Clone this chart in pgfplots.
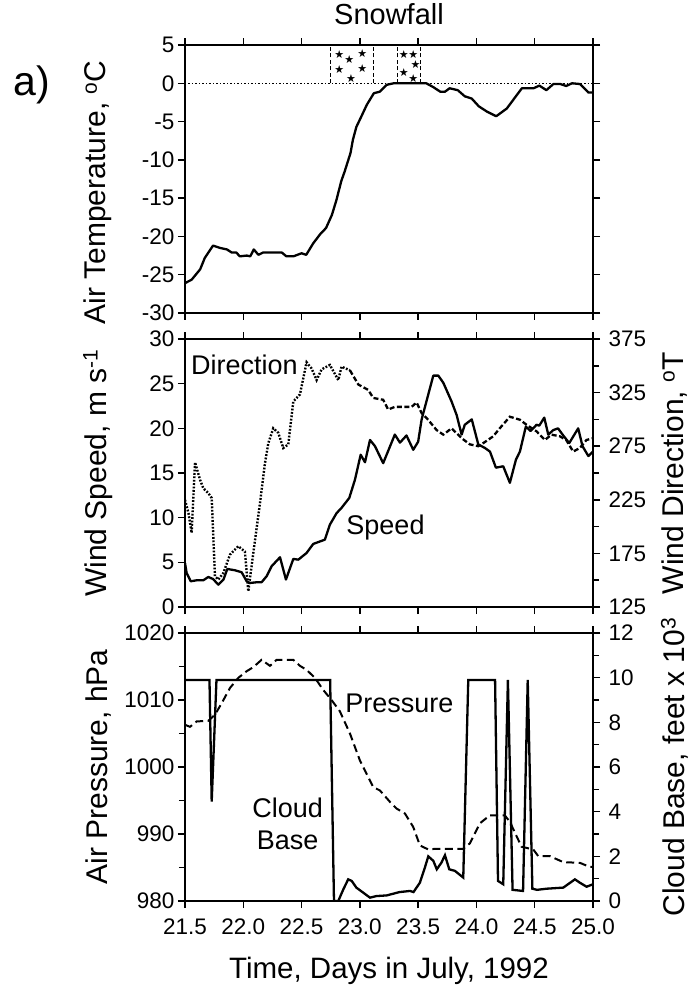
\documentclass[border=0pt]{standalone}
\usepackage{fontspec}
\setmainfont{Liberation Sans}
\newfontfamily\starfont{DejaVu Sans}
\usepackage{pgfplots}
\pgfplotsset{compat=1.18}

\pgfplotsset{
 panel/.style={
  scale only axis, width=408pt, height=268pt,
  xmin=21.5, xmax=25,
  xtick={21.5,22,22.5,23,23.5,24,24.5,25},
  tick align=outside,
  major tick length=7pt, minor tick length=6pt,
  axis line style={line width=2pt},
  every tick/.style={line width=1.5pt, black},
  tick label style={font=\fontsize{22.5}{26}\selectfont},
  label style={font=\fontsize{30}{34}\selectfont},
  /pgf/number format/assume math mode=true,
  /pgf/number format/1000 sep={},
 },
 dataline/.style={black, line width=2.3pt, line join=round},
}

\begin{document}
\begin{tikzpicture}
\path[use as bounding box] (-185pt,45pt) rectangle (510pt,-943pt);

% ---------------- Top panel: air temperature
\begin{axis}[panel, name=top, at={(0pt,0pt)}, anchor=north west,
  ymin=-30, ymax=5, ytick={-30,-25,-20,-15,-10,-5,0,5},
  ytick pos=both, yticklabel pos=left, xtick pos=both, xticklabels={},
  ylabel={Air Temperature, \textsuperscript{o}C},
  ylabel style={at={(axis description cs:-0.213,0.45)}, anchor=center},
  title={Snowfall},
  title style={font=\fontsize{29}{33}\selectfont, at={(axis description cs:0.5,1)}, anchor=base, yshift=15pt},
]
\addplot[black, line width=1.2pt, dash pattern=on 1.5pt off 2pt] coordinates {(21.5,0) (25,0)};
\addplot[black, line width=1pt, dash pattern=on 4pt off 2.5pt] coordinates {(22.75,0) (22.75,5)};
\addplot[black, line width=1pt, dash pattern=on 4pt off 2.5pt] coordinates {(23.12,0) (23.12,5)};
\addplot[black, line width=1pt, dash pattern=on 4pt off 2.5pt] coordinates {(23.32,0) (23.32,5)};
\addplot[black, line width=1pt, dash pattern=on 4pt off 2.5pt] coordinates {(23.52,0) (23.52,5)};
\addplot[only marks, mark=text, text mark={\starfont\fontsize{11}{11}\selectfont ★}, text mark as node=true] coordinates {
 (22.824,3.7) (22.909,3.13) (23.021,3.9) (22.824,1.74) (23.021,1.96) (22.924,0.57)
 (23.378,3.7) (23.458,3.7) (23.478,2.48) (23.378,1.43) (23.458,0.57)};
\addplot[dataline] coordinates {
 (21.5,-26.1) (21.557,-25.65) (21.63,-24.3) (21.67,-22.8) (21.74,-21.2) (21.80,-21.5)
 (21.86,-21.7) (21.90,-22.1) (21.94,-22.1) (21.97,-22.6) (22.03,-22.5) (22.06,-22.6)
 (22.09,-21.7) (22.13,-22.4) (22.17,-22.1) (22.33,-22.1) (22.37,-22.6) (22.43,-22.6)
 (22.50,-22.2) (22.54,-22.4) (22.60,-20.9) (22.66,-19.7) (22.71,-18.9) (22.76,-17.2)
 (22.80,-15.2) (22.84,-12.8) (22.87,-11.5) (22.92,-9.1) (22.94,-7.4) (22.97,-5.7)
 (23.02,-4.1) (23.06,-2.8) (23.12,-1.3) (23.17,-1.1) (23.23,-0.2) (23.29,0)
 (23.57,0) (23.63,-0.5) (23.69,-1.1) (23.73,-1.1) (23.77,-0.65) (23.84,-0.9)
 (23.90,-1.7) (23.96,-2.0) (24.02,-3.0) (24.09,-3.7) (24.17,-4.3) (24.26,-3.3)
 (24.39,-0.65) (24.49,-0.65) (24.54,-0.3) (24.60,-0.9) (24.66,-0.1) (24.72,-0.1)
 (24.77,-0.35) (24.82,0) (24.89,-0.1) (24.96,-1.2) (25.0,-1.2)};
\end{axis}
\node[font=\fontsize{41}{45}\selectfont] at ([xshift=-153pt,yshift=-40pt]top.north west) {a)};

% ---------------- Middle panel: wind speed (left) and direction (right)
\begin{axis}[panel, name=mid, at={(0pt,-294pt)}, anchor=north west,
  ymin=0, ymax=30, ytick={0,5,10,15,20,25,30},
  ytick pos=left, xtick pos=both, xticklabels={},
  ylabel={Wind Speed, m s\textsuperscript{-1}},
  ylabel style={at={(axis description cs:-0.213,0.5)}, anchor=center},
]
\addplot[dataline] coordinates {
 (21.5,4.93) (21.514,3.81) (21.549,2.88) (21.60,2.99) (21.657,2.99) (21.70,3.36)
 (21.74,3.14) (21.786,2.5) (21.83,3.07) (21.863,4.26) (21.929,4.11) (21.986,3.89)
 (22.029,2.88) (22.057,2.69) (22.115,2.77) (22.157,2.77) (22.20,3.44) (22.243,4.56)
 (22.315,5.57) (22.366,3.07) (22.429,5.38) (22.472,5.3) (22.543,6.05) (22.60,7.06)
 (22.70,7.54) (22.743,9.22) (22.80,10.5) (22.843,11.1) (22.909,12.2) (22.958,14.25)
 (23.007,17.05) (23.044,16.2) (23.087,18.7) (23.13,18.0) (23.20,16.1) (23.30,19.3)
 (23.344,18.4) (23.40,19.2) (23.458,17.6) (23.50,18.5) (23.53,21.0) (23.63,25.9)
 (23.673,25.9) (23.716,25.1) (23.787,23.0) (23.83,21.5) (23.873,19.3) (23.90,20.4)
 (23.96,21.0) (24.016,18.2) (24.073,17.8) (24.116,17.4) (24.167,15.6) (24.23,15.75)
 (24.287,13.9) (24.339,16.5) (24.373,17.4) (24.424,20.2) (24.464,19.7) (24.516,20.4)
 (24.539,20.3) (24.582,21.2) (24.616,19.3) (24.659,19.8) (24.70,20.0) (24.739,19.3)
 (24.796,18.35) (24.873,20.0) (24.91,18.0) (24.96,16.9) (25.0,17.4)};
\node[font=\fontsize{27}{30}\selectfont] at (axis cs:22.01,27.1) {Direction};
\node[font=\fontsize{27}{30}\selectfont] at (axis cs:23.22,8.9) {Speed};
\end{axis}
\begin{axis}[panel, at={(0pt,-294pt)}, anchor=north west,
  ymin=125, ymax=375, ytick={125,175,225,275,325,375},
  minor ytick={150,200,250,300,350},
  axis y line*=right, axis x line=none,
  yticklabel style={xshift=5pt},
  ylabel={Wind Direction, \textsuperscript{o}T},
  ylabel style={at={(axis description cs:1.2,0.5)}, anchor=center},
]
\addplot[black, line width=2.4pt, dash pattern=on 1.8pt off 1.6pt] coordinates {
 (21.5,225) (21.53,212.5) (21.557,194.2) (21.586,260) (21.629,243.75) (21.657,235.8)
 (21.70,231.25) (21.729,226.7) (21.757,153.7) (21.786,150.6) (21.829,156.7) (21.886,173.9)
 (21.957,181.7) (22.014,176.7) (22.043,139.6) (22.086,175.4) (22.143,221.7) (22.186,259.2)
 (22.215,277.9) (22.257,291.7) (22.30,287.5) (22.343,273.3) (22.386,276.7) (22.429,316.7)
 (22.486,323.3) (22.543,353.3) (22.586,347.5) (22.629,336.7) (22.672,346.7) (22.743,350.8)
 (22.815,336.7) (22.843,349.2) (22.915,345.8)};
\addplot[black, line width=2.3pt, dash pattern=on 5pt off 2.5pt] coordinates {
 (22.915,345.8) (22.987,332.5) (23.072,327.5) (23.115,320) (23.20,318.3) (23.243,309.2)
 (23.30,311.7) (23.444,311.7) (23.487,315.8) (23.53,305.8) (23.573,301.25) (23.659,290)
 (23.716,285.8) (23.787,291.7) (23.873,282.5) (23.944,276.7) (24.016,275) (24.059,277.9)
 (24.144,284.2) (24.20,291.7) (24.287,302.5) (24.373,299.7) (24.43,295) (24.516,288.8)
 (24.587,280.8) (24.644,285.8) (24.716,284.2) (24.77,280.8) (24.83,270) (24.887,273.3)
 (24.944,280.8) (25.0,282.5)};
\end{axis}

% ---------------- Bottom panel: pressure (left) and cloud base (right)
\begin{axis}[panel, name=bot, at={(0pt,-588pt)}, anchor=north west,
  ymin=980, ymax=1020, ytick={980,990,1000,1010,1020},
  minor ytick={985,995,1005,1015},
  ytick pos=left, xtick pos=both,
  xticklabel style={yshift=-7pt, /pgf/number format/.cd, fixed, fixed zerofill, precision=1},
  xlabel={Time, Days in July, 1992},
  xlabel style={font=\fontsize{29.5}{33}\selectfont, at={(axis description cs:0.5,0)}, anchor=base, yshift=-77pt},
  ylabel={Air Pressure, hPa},
  ylabel style={at={(axis description cs:-0.213,0.5)}, anchor=center},
]
\addplot[black, line width=2pt, dash pattern=on 8pt off 4.5pt] coordinates {
 (21.5,1006.3) (21.543,1006.0) (21.60,1006.8) (21.70,1006.9) (21.757,1007.8) (21.814,1009.5)
 (21.886,1011.8) (21.957,1013.3) (22.029,1014.3) (22.086,1014.9) (22.157,1016.0) (22.229,1015.1)
 (22.286,1016.0) (22.429,1016.0) (22.486,1015.1) (22.543,1014.5) (22.615,1013.3) (22.686,1011.5)
 (22.757,1010.0) (22.829,1008.3) (22.915,1005.0) (23.0,1001.0) (23.115,997.0) (23.172,996.5)
 (23.258,994.8) (23.315,993.8) (23.387,993.05) (23.458,991.05) (23.515,988.3) (23.586,987.7)
 (23.658,987.8) (23.887,987.8) (23.944,988.6) (24.03,991.6) (24.116,992.8) (24.243,992.8)
 (24.287,991.8) (24.387,988.1) (24.487,987.7) (24.53,986.7) (24.63,986.7) (24.745,985.8)
 (24.887,985.7) (24.97,985.1) (25.0,985.1)};
\node[font=\fontsize{27}{30}\selectfont] at (axis cs:23.34,1009.5) {Pressure};
\node[font=\fontsize{27}{32}\selectfont, align=center] at (axis cs:22.38,991.5) {Cloud\\Base};
\end{axis}
\begin{axis}[panel, at={(0pt,-588pt)}, anchor=north west,
  ymin=0, ymax=12, ytick={0,2,4,6,8,10,12},
  minor ytick={1,3,5,7,9,11},
  axis y line*=right, axis x line=none,
  yticklabel style={xshift=5pt},
  ylabel={Cloud Base, feet x 10\textsuperscript{3}},
  ylabel style={at={(axis description cs:1.2,0.5)}, anchor=center},
]
\addplot[dataline, line join=miter] coordinates {
 (21.5,9.9) (21.71,9.9) (21.729,4.45) (21.77,9.9) (22.745,9.9) (22.778,0) (22.815,0)
 (22.858,0.52) (22.90,0.97) (22.93,0.9) (22.97,0.6) (23.03,0.37) (23.087,0.15) (23.14,0.22)
 (23.23,0.25) (23.34,0.4) (23.43,0.45) (23.46,0.4) (23.515,0.82) (23.558,1.5) (23.587,2.0)
 (23.63,1.8) (23.66,1.42) (23.70,1.72) (23.73,2.05) (23.767,1.42) (23.815,1.35) (23.887,1.05)
 (23.93,9.9) (24.16,9.9) (24.185,0.9) (24.23,0.75) (24.27,9.9) (24.31,0.5) (24.40,0.45)
 (24.44,9.9) (24.48,0.55) (24.52,0.5) (24.60,0.55) (24.745,0.6) (24.845,0.97) (24.887,0.82)
 (24.945,0.64) (25.0,0.75)};
\end{axis}
\end{tikzpicture}
\end{document}
